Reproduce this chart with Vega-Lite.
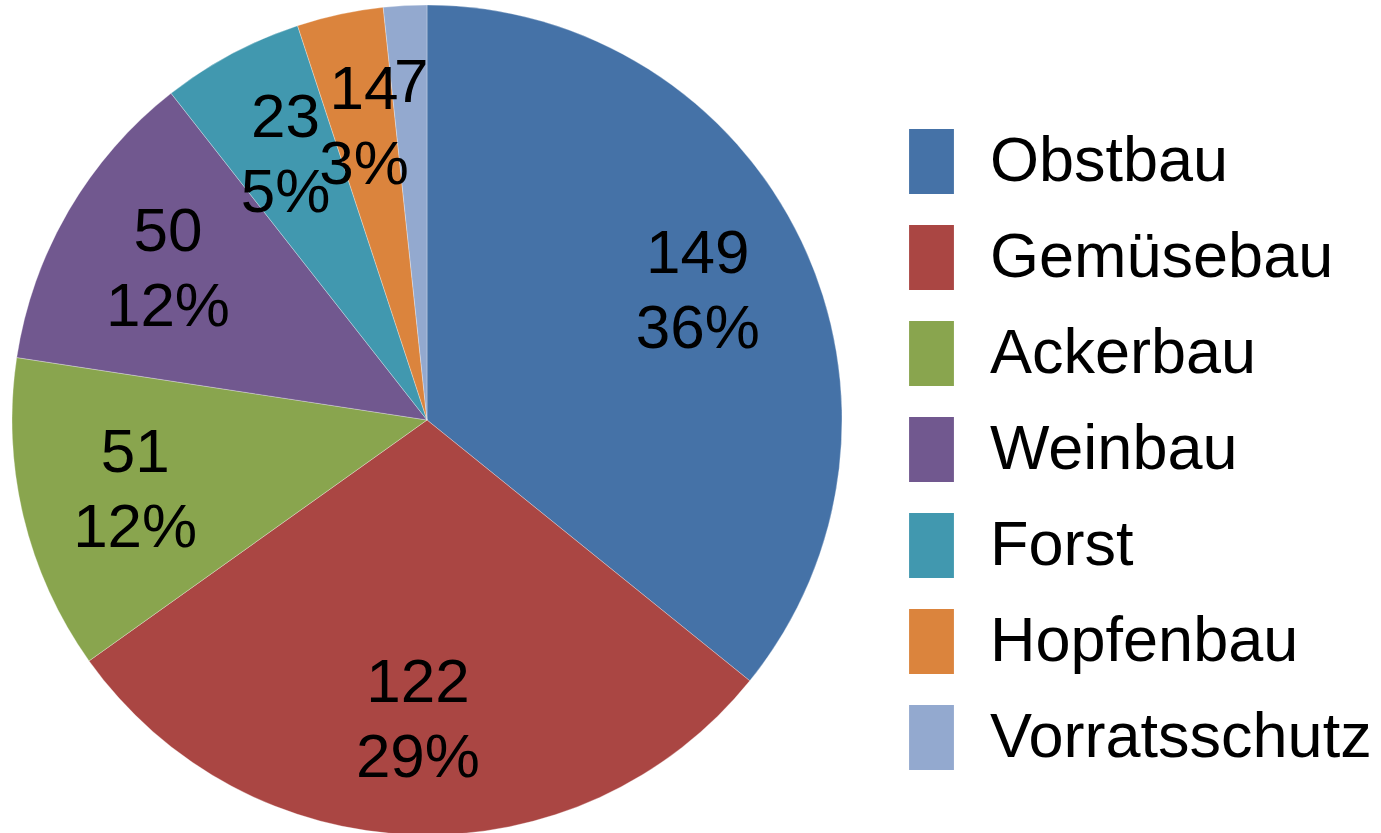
{
  "$schema": "https://vega.github.io/schema/vega-lite/v6.json",
  "width": 854,
  "height": 840,
  "padding": 0,
  "autosize": {"type": "pad"},
  "background": "white",
  "config": {"view": {"stroke": null}, "font": "Liberation Sans"},
  "data": {
    "values": [
      {"idx": 1, "category": "Obstbau", "value": 149, "pct": "36%"},
      {"idx": 2, "category": "Gemüsebau", "value": 122, "pct": "29%"},
      {"idx": 3, "category": "Ackerbau", "value": 51, "pct": "12%"},
      {"idx": 4, "category": "Weinbau", "value": 50, "pct": "12%"},
      {"idx": 5, "category": "Forst", "value": 23, "pct": "5%"},
      {"idx": 6, "category": "Hopfenbau", "value": 14, "pct": "3%"},
      {"idx": 7, "category": "Vorratsschutz", "value": 7, "pct": ""}
    ]
  },
  "transform": [
    {"calculate": "datum.pct ? datum.value + '\\n' + datum.pct : '' + datum.value", "as": "label"}
  ],
  "encoding": {
    "theta": {"field": "value", "type": "quantitative", "stack": true},
    "order": {"field": "idx", "type": "quantitative"}
  },
  "layer": [
    {
      "mark": {"type": "arc", "outerRadius": 415, "stroke": "white", "strokeWidth": 0.3},
      "encoding": {
        "color": {
          "field": "category",
          "type": "nominal",
          "scale": {
            "domain": ["Obstbau", "Gemüsebau", "Ackerbau", "Weinbau", "Forst", "Hopfenbau", "Vorratsschutz"],
            "range": ["#4572A7", "#AA4643", "#89A54E", "#71588F", "#4198AF", "#DB843D", "#93A9CF"]
          },
          "legend": {
            "title": null,
            "orient": "none",
            "legendX": 899,
            "legendY": 129,
            "padding": 0,
            "symbolType": "M-0.69,-1H0.69V1H-0.69Z",
            "symbolSize": 4225,
            "symbolStrokeWidth": 0,
            "symbolOpacity": 1,
            "labelFont": "Liberation Sans",
            "labelFontSize": 63,
            "labelColor": "black",
            "labelOffset": 26,
            "labelLimit": 500,
            "rowPadding": 31
          }
        }
      }
    },
    {
      "mark": {"type": "text", "radius": 300, "dy": -37, "fontSize": 62, "font": "Liberation Sans", "color": "black", "lineBreak": "\n", "lineHeight": 75, "align": "center", "baseline": "middle"},
      "encoding": {
        "text": {"field": "label", "type": "nominal"}
      }
    }
  ]
}
